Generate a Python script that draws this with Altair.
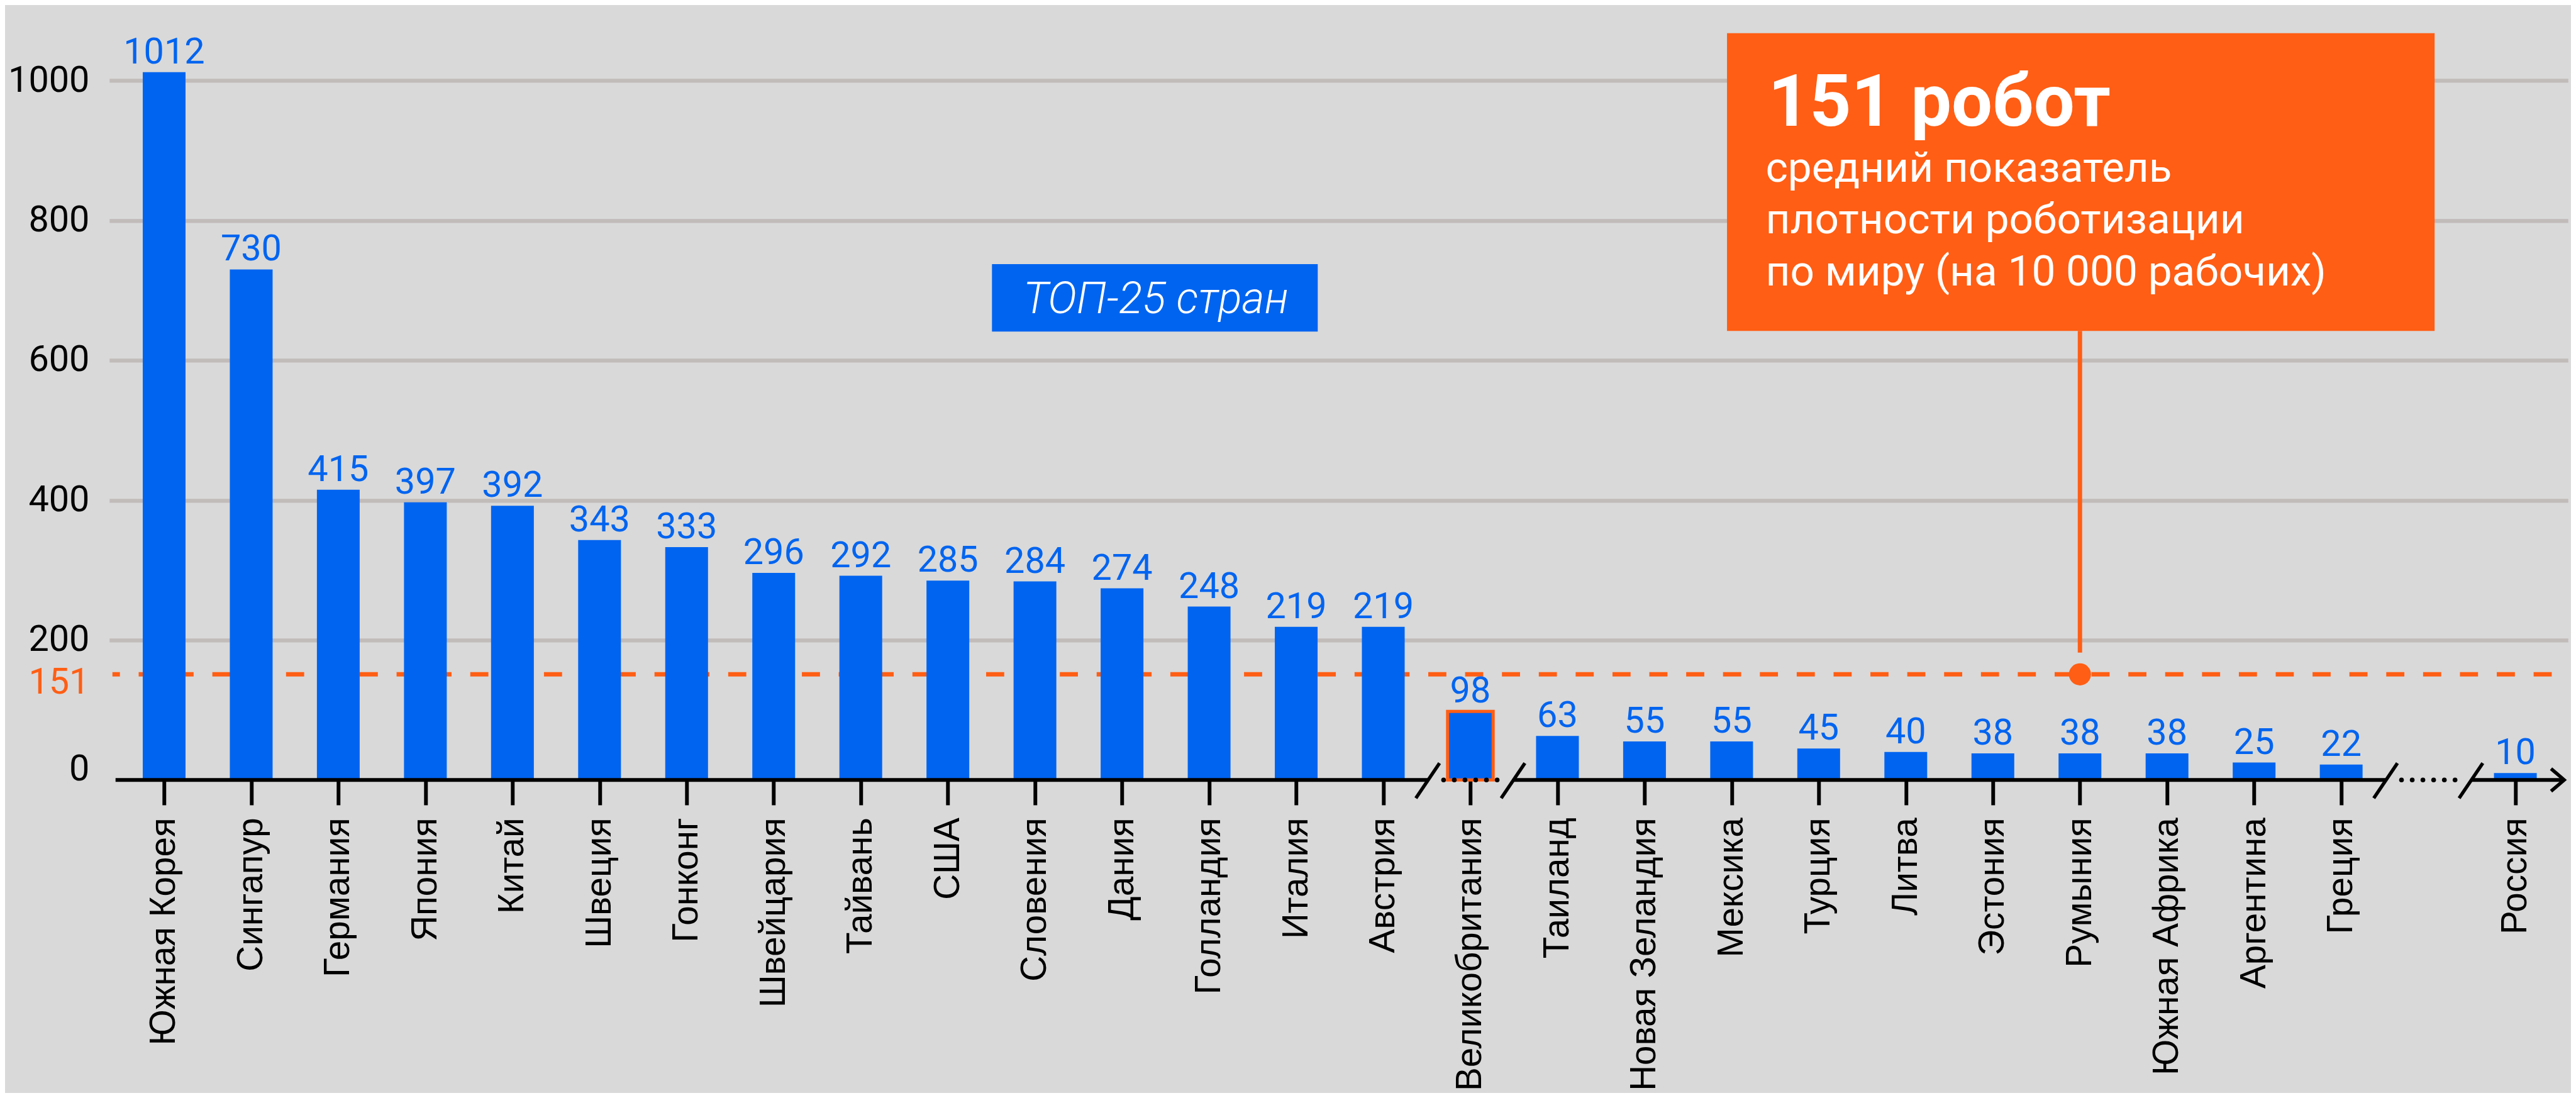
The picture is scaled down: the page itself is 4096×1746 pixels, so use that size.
import json
import altair as alt
import pandas as pd

# ---------------- data ----------------
countries = ["Южная Корея", "Сингапур", "Германия", "Япония", "Китай", "Швеция",
             "Гонконг", "Швейцария", "Тайвань", "США", "Словения", "Дания",
             "Голландия", "Италия", "Австрия", "Великобритания", "Таиланд",
             "Новая Зеландия", "Мексика", "Турция", "Литва", "Эстония", "Румыния",
             "Южная Африка", "Аргентина", "Греция", "Россия"]
values = [1012, 730, 415, 397, 392, 343, 333, 296, 292, 285, 284, 274, 248, 219, 219,
          98, 63, 55, 55, 45, 40, 38, 38, 38, 25, 22, 10]
highlight_country = "Великобритания"
world_avg = 151
avg_marker_country = "Румыния"
y_tick_values = [0, 151, 200, 400, 600, 800, 1000]
skipped_slot = 26          # empty slot (axis break) before Россия
badge_text = "ТОП-25 стран"
callout_title = "151 робот"
callout_lines = ["средний показатель", "плотности роботизации",
                 "по миру (на 10 000 рабочих)"]

# ---------------- layout ----------------
S = 0.993
BLUE = "#0064F0"
ORANGE = "#FF5E14"
GRID = "#C1BBBA"
BG = "#D9D9D9"

X0, STEP = 258, 139.8      # reference px of slot 0 and slot spacing
Y0, PPU = 1249, 1.12       # reference px of zero line, px per unit


def xs(p):
    return (p - X0) / STEP


def yv(p):
    return (Y0 - p) / PPU


PLOT_L, PLOT_R, PLOT_T = 175, 4112, 17
x_dom = [xs(PLOT_L), xs(PLOT_R)]
y_dom = [0, yv(PLOT_T)]

W = (PLOT_R - PLOT_L) * S
H = (Y0 - PLOT_T) * S
pad_left = PLOT_L * S - 8
pad_top = PLOT_T * S - 8
pad_right = 4080 - pad_left - W
pad_bottom = 1730 - pad_top - H

slots = [i if i < skipped_slot else i + 1 for i in range(len(countries))]
slot_of = dict(zip(countries, slots))
df = pd.DataFrame({"slot": slots, "country": countries, "value": values})

names_by_slot = [""] * (max(slots) + 1)
for c, s_ in zip(countries, slots):
    names_by_slot[s_] = c

xsc = alt.Scale(domain=x_dom, nice=False, zero=False)
ysc = alt.Scale(domain=y_dom, nice=False, zero=False)

x_axis = alt.Axis(
    values=slots,
    labelExpr=json.dumps(names_by_slot, ensure_ascii=False) + "[datum.value]",
    labelAngle=270, labelAlign="right", labelBaseline="middle",
    labelFont="Liberation Sans", labelFontSize=57 * S, labelColor="black",
    labelPadding=20 * S, labelOverlap=False, labelFlush=False, labelBound=False,
    labelLimit=2000,
    ticks=True, tickSize=40 * S, tickWidth=6 * S, tickColor="black",
    domain=False, grid=False, title=None)

y_axis = alt.Axis(
    values=y_tick_values, format="d",
    labelFont="Roboto", labelFontSize=58 * S,
    labelColor={"condition": {"test": f"datum.value == {world_avg}", "value": ORANGE},
                "value": "black"},
    labelBaseline={"condition": {"test": "datum.value == 0", "value": "alphabetic"},
                   "value": "middle"},
    labelOffset={"condition": {"test": f"datum.value == {world_avg}", "value": 13 * S},
                 "value": 0},
    labelPadding=32 * S, labelOverlap=False, labelFlush=False, labelLimit=2000,
    ticks=False, tickSize=0, domain=False,
    grid=True, gridColor=GRID, gridWidth=6.5 * S,
    gridOpacity={"condition": {"test": f"datum.value == 0 || datum.value == {world_avg}",
                               "value": 0}, "value": 1},
    title=None)


def X(f):
    return alt.X(f, type="quantitative", scale=xsc, axis=x_axis)


def Y(f):
    return alt.Y(f, type="quantitative", scale=ysc, axis=y_axis)


# world-average dashed line
avg_df = pd.DataFrame({"x": [x_dom[0]], "x2": [xs(4107)], "y": [world_avg]})
avg_line = alt.Chart(avg_df).mark_rule(
    color=ORANGE, strokeWidth=7 * S, strokeDash=[29 * S, 30 * S],
    strokeDashOffset=17 * S).encode(x=X("x"), x2="x2", y=Y("y"))

# bars
bars = alt.Chart(df).mark_bar(width=68.5 * S, color=BLUE).encode(
    x=X("slot"), y=Y("value"), y2=alt.datum(0))

hl = alt.Chart(df[df.country == highlight_country]).mark_bar(
    width=73 * S, color=BLUE, stroke=ORANGE, strokeWidth=5 * S).encode(
    x=X("slot"), y=Y("value"), y2=alt.datum(0))

# broken x-axis line
breaks = [slot_of[highlight_country], skipped_slot]
half = 0.49
seg_start = [xs(180)] + [b + half for b in breaks]
seg_end = [b - half for b in breaks] + [xs(4111)]
seg_df = pd.DataFrame({"x": seg_start, "x2": seg_end, "y": 0})
axis_line = alt.Chart(seg_df).mark_rule(color="black", strokeWidth=6 * S).encode(
    x=X("x"), x2="x2", y=Y("y"))

slash_rows = []
for b in breaks:
    for side in (-1, 1):
        c = b + side * half
        slash_rows.append({"x": c - 0.136, "x2": c + 0.136, "y": -26, "y2": 24})
slashes = alt.Chart(pd.DataFrame(slash_rows)).mark_rule(
    color="black", strokeWidth=5.5 * S).encode(x=X("x"), x2="x2", y=Y("y"), y2="y2")

dot_rows = [{"x": b + (k - 2.5) * 0.123, "y": 0} for b in breaks for k in range(6)]
dots = alt.Chart(pd.DataFrame(dot_rows)).mark_circle(
    color="black", opacity=1, size=3.1416 * (4.3 * S) ** 2).encode(x=X("x"), y=Y("y"))

arrow = alt.Chart(pd.DataFrame({"x": [xs(4111)], "y": [0]})).mark_point(
    shape="M-1.17,-1L0,0L-1.17,1", filled=False, stroke="black", opacity=1,
    strokeWidth=5.5 * S, size=(36 * S) ** 2).encode(x=X("x"), y=Y("y"))

# value labels
labels = alt.Chart(df).mark_text(
    align="center", baseline="alphabetic", dy=-14 * S, font="Roboto",
    fontSize=58 * S, color=BLUE).encode(x=X("slot"), y=Y("value"), text="value:Q")

# "TOP-25" badge
badge_df = pd.DataFrame({"x": [xs(1587)], "x2": [xs(2110)], "y": [yv(531)], "y2": [yv(423)],
                         "tx": [xs(1850)], "ty": [yv(502)], "t": [badge_text]})
badge_box = alt.Chart(badge_df).mark_rect(color=BLUE).encode(
    x=X("x"), x2="x2", y=Y("y"), y2="y2")
badge_txt = alt.Chart(badge_df).mark_text(
    align="center", baseline="alphabetic", font="Roboto", fontStyle="italic",
    fontWeight=300, fontSize=70 * S, color="white").encode(
    x=X("tx"), y=Y("ty"), text="t:N")

# callout
call_df = pd.DataFrame({"x": [xs(2767)], "x2": [xs(3903)], "y": [yv(530)], "y2": [yv(53)]})
call_box = alt.Chart(call_df).mark_rect(color=ORANGE).encode(
    x=X("x"), x2="x2", y=Y("y"), y2="y2")

stem_df = pd.DataFrame({"x": [slot_of[avg_marker_country]], "y": [world_avg + 31],
                        "y2": [yv(530)]})
stem = alt.Chart(stem_df).mark_rule(color=ORANGE, strokeWidth=7 * S).encode(
    x=X("x"), y=Y("y"), y2="y2")

avg_dot = alt.Chart(pd.DataFrame({"x": [slot_of[avg_marker_country]], "y": [world_avg]})).mark_circle(
    color=ORANGE, opacity=1, size=3.1416 * (20 * S) ** 2).encode(x=X("x"), y=Y("y"))

title_df = pd.DataFrame({"x": [xs(2833)], "y": [yv(201)], "t": [callout_title]})
call_title = alt.Chart(title_df).mark_text(
    align="left", baseline="alphabetic", font="Roboto", fontWeight="bold",
    fontSize=116 * S, color="white").encode(x=X("x"), y=Y("y"), text="t:N")

sub_df = pd.DataFrame({"x": [xs(2829)], "y": [yv(291)]})
call_sub = alt.Chart(sub_df).mark_text(
    align="left", baseline="alphabetic", font="Roboto", fontSize=68 * S,
    lineHeight=83 * S, color="white", text=callout_lines).encode(x=X("x"), y=Y("y"))

chart = alt.layer(
    avg_line, bars, hl, axis_line, slashes, dots, arrow, labels,
    badge_box, badge_txt, stem, call_box, avg_dot, call_title, call_sub
).properties(
    width=W, height=H,
    autosize=alt.AutoSizeParams(type="none"),
    padding={"left": pad_left, "top": pad_top, "right": pad_right, "bottom": pad_bottom},
    background=BG,
).configure_view(strokeWidth=0)

chart.save("out.html", embed_options={"renderer": "svg", "actions": False})
